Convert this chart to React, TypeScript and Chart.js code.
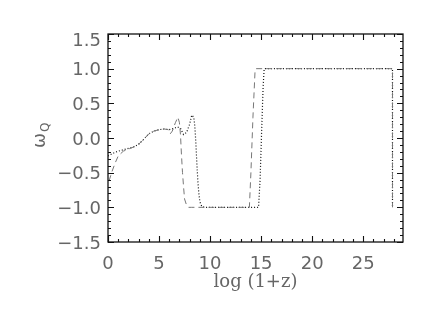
import React, { useEffect, useRef } from "react";
import { Chart, registerables } from "chart.js";

Chart.register(...registerables);

// Dotted curve (black)
const dottedX = [0.0, 0.5, 1.0, 1.5, 2.0, 2.5, 3.0, 3.5, 4.0, 4.5, 5.0, 5.5, 6.0, 6.5, 6.8, 7.1, 7.4, 7.7, 8.0, 8.2, 8.4, 8.5, 8.6, 8.7, 8.8, 8.9, 9.0, 9.2, 9.6, 12.0, 14.75, 14.9, 15.05, 15.2, 15.3, 20.0, 25.0, 27.87, 27.87];
const dottedY = [-0.26, -0.22, -0.19, -0.17, -0.15, -0.13, -0.09, -0.02, 0.06, 0.10, 0.12, 0.13, 0.12, 0.14, 0.16, 0.14, 0.05, 0.08, 0.20, 0.33, 0.30, 0.18, -0.05, -0.35, -0.62, -0.80, -0.92, -0.99, -1.0, -1.0, -1.0, -0.6, 0.1, 0.75, 1.0, 1.0, 1.0, 1.0, -1.0];

// Dashed curve (gray)
const dashedX = [0.1, 0.4, 0.7, 1.0, 1.5, 2.0, 2.5, 3.0, 3.5, 4.0, 4.5, 5.0, 5.5, 5.9, 6.1, 6.3, 6.6, 6.85, 7.0, 7.1, 7.2, 7.3, 7.4, 7.5, 7.7, 7.9, 8.2, 10.0, 13.85, 14.0, 14.2, 14.4, 14.5, 20.0, 27.87, 27.87];
const dashedY = [-0.62, -0.48, -0.36, -0.26, -0.19, -0.16, -0.13, -0.09, -0.02, 0.06, 0.10, 0.12, 0.13, 0.12, 0.06, 0.10, 0.22, 0.30, 0.22, 0.05, -0.25, -0.50, -0.70, -0.88, -0.97, -1.0, -1.0, -1.0, -1.0, -0.5, 0.3, 0.95, 1.0, 1.0, 1.0, -1.0];

const xMajorTicks = [0, 5, 10, 15, 20, 25];
const yMajorTicks = [-1.5, -1.0, -0.5, 0.0, 0.5, 1.0, 1.5];
const xMin = 0;
const xMax = 28.9;
const yMin = -1.5;
const yMax = 1.5;
const xMinorStep = 1;
const yMinorStep = 0.1;
const xTitle = "log (1+z)";
const yTitleMain = "ω";
const yTitleSub = "Q";

const toPoints = (xs: number[], ys: number[]) => xs.map((x, i) => ({ x, y: ys[i] }));

const fmtY = (v: number) => (v < 0 ? "\u2212" : "") + Math.abs(v).toFixed(1);

const framePlugin = {
  id: "idlFrame",
  afterDraw(chart: any) {
    const { ctx, chartArea } = chart;
    const xs = chart.scales.x;
    const ys = chart.scales.y;
    const { left, right, top, bottom } = chartArea;
    ctx.save();
    ctx.strokeStyle = "#111";
    ctx.lineWidth = 1.3;
    ctx.setLineDash([]);
    ctx.strokeRect(left, top, right - left, bottom - top);

    ctx.lineWidth = 1.1;
    ctx.beginPath();
    for (let v = xMin; v <= xMax + 1e-9; v += xMinorStep) {
      const px = Math.round(xs.getPixelForValue(v)) + 0.5;
      const major = xMajorTicks.some((m) => Math.abs(m - v) < 1e-6);
      const len = major ? 6 : 3;
      ctx.moveTo(px, bottom);
      ctx.lineTo(px, bottom - len);
      ctx.moveTo(px, top);
      ctx.lineTo(px, top + len);
    }
    for (let k = 0; ; k++) {
      const v = yMin + k * yMinorStep;
      if (v > yMax + 1e-9) break;
      const py = Math.round(ys.getPixelForValue(v)) + 0.5;
      const major = yMajorTicks.some((m) => Math.abs(m - v) < 1e-6);
      const len = major ? 6 : 3;
      ctx.moveTo(left, py);
      ctx.lineTo(left + len, py);
      ctx.moveTo(right, py);
      ctx.lineTo(right - len, py);
    }
    ctx.stroke();

    ctx.fillStyle = "#666";
    ctx.font = '18px "DejaVu Sans"';
    ctx.textAlign = "center";
    ctx.textBaseline = "middle";
    xMajorTicks.forEach((v) => {
      ctx.fillText(String(v), xs.getPixelForValue(v), bottom + 22);
    });
    ctx.textAlign = "right";
    yMajorTicks.forEach((v) => {
      const py = Math.max(ys.getPixelForValue(v) + 2, top + 7);
      ctx.fillText(fmtY(v), left - 7, py);
    });

    ctx.textAlign = "center";
    ctx.font = '18px "DejaVu Serif"';
    ctx.fillText(xTitle, (left + right) / 2, bottom + 40);

    ctx.save();
    ctx.translate(40, 148);
    ctx.rotate(-Math.PI / 2);
    ctx.textAlign = "left";
    ctx.textBaseline = "middle";
    ctx.font = '18px "DejaVu Sans"';
    ctx.fillText(yTitleMain, 0, 0);
    const w = ctx.measureText(yTitleMain).width;
    ctx.font = '12px "DejaVu Sans"';
    ctx.fillText(yTitleSub, w + 1, 6);
    ctx.restore();

    ctx.restore();
  },
};

export default function App() {
  const ref = useRef<HTMLCanvasElement>(null);
  useEffect(() => {
    if (!ref.current) return;
    const chart = new Chart(ref.current, {
      type: "scatter",
      data: {
        datasets: [
          {
            data: toPoints(dashedX, dashedY),
            showLine: true,
            borderColor: "#777",
            borderWidth: 1,
            borderDash: [6, 4],
            pointRadius: 0,
            tension: 0,
          },
          {
            data: toPoints(dottedX, dottedY),
            showLine: true,
            borderColor: "#111",
            borderWidth: 1.2,
            borderDash: [1, 2],
            pointRadius: 0,
            tension: 0,
          },
        ],
      },
      options: {
        animation: false,
        responsive: false,
        layout: { padding: { left: 108, right: 33, top: 34, bottom: 70 } },
        plugins: { legend: { display: false }, tooltip: { enabled: false } },
        scales: {
          x: { type: "linear", min: xMin, max: xMax, display: false },
          y: { type: "linear", min: yMin, max: yMax, display: false },
        },
      },
      plugins: [framePlugin],
    });
    return () => chart.destroy();
  }, []);
  return (
    <div style={{ position: "fixed", left: 0, top: 0, width: 436, height: 312, background: "#fff" }}>
      <canvas ref={ref} width={436} height={312} style={{ display: "block" }} />
    </div>
  );
}
